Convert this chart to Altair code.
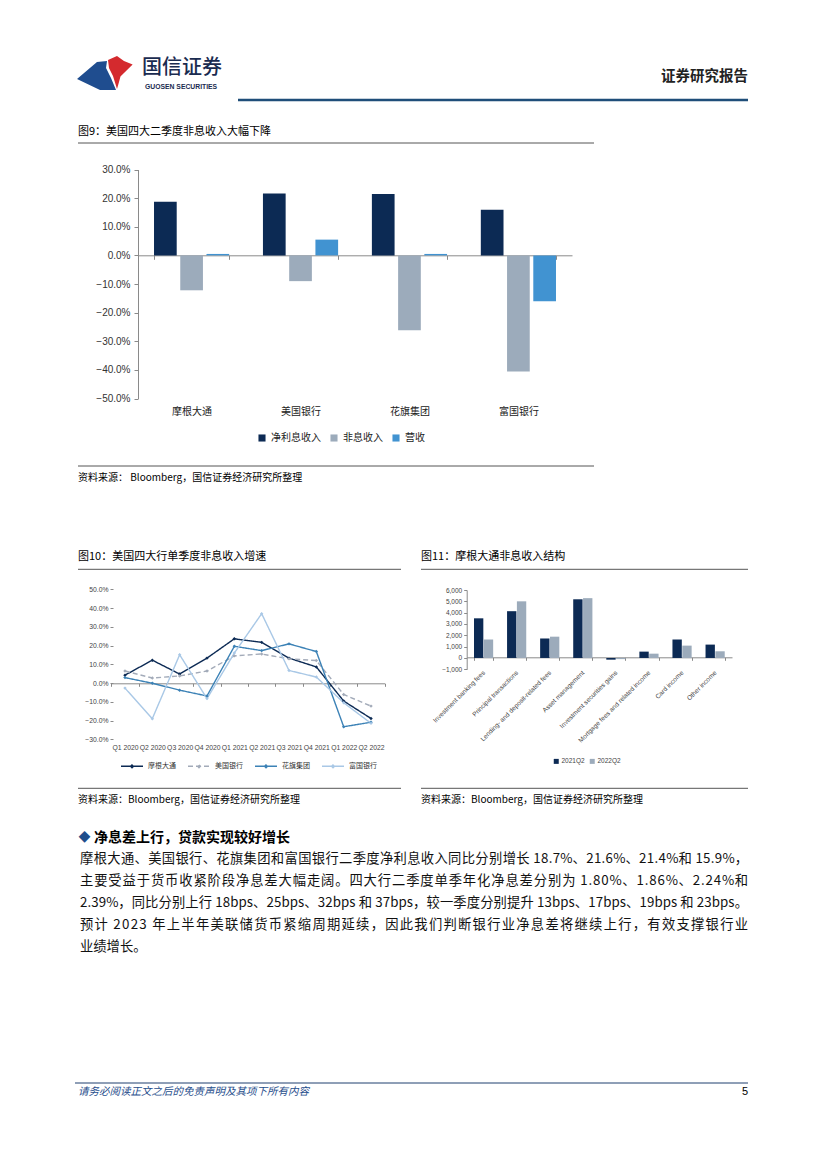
import altair as alt
import pandas as pd

# ---------------- data ----------------
banks = ["摩根大通", "美国银行", "花旗集团", "富国银行"]
series9 = ["净利息收入", "非息收入", "营收"]
nii_yoy = [18.7, 21.6, 21.4, 15.9]
nonii_yoy = [-12.2, -9.0, -26.2, -40.6]
revenue_yoy = [0.5, 5.5, 0.5, -16.0]

quarters = ["Q1 2020", "Q2 2020", "Q3 2020", "Q4 2020", "Q1 2021",
            "Q2 2021", "Q3 2021", "Q4 2021", "Q1 2022", "Q2 2022"]
jpm_q = [4.2, 12.2, 4.8, 13.3, 23.6, 21.7, 13.3, 8.6, -9.6, -18.9]
bac_q = [6.4, 2.7, 3.8, 6.4, 14.5, 15.5, 12.9, 12.0, -6.1, -12.3]
c_q = [2.9, -0.1, -3.8, -6.9, 19.6, 17.3, 20.9, 16.8, -23.3, -20.9]
wfc_q = [-2.7, -19.0, 15.1, -8.3, 16.0, 37.0, 6.7, 3.2, -10.5, -21.5]

items = ["Investment banking fees", "Principal transactions",
         "Lending- and deposit-related fees", "Asset management",
         "Investment securities gains", "Mortgage fees and related income",
         "Card income", "Other income"]
periods = ["2021Q2", "2022Q2"]
jpm_2021q2 = [3500, 4130, 1720, 5180, -150, 560, 1630, 1180]
jpm_2022q2 = [1630, 5000, 1880, 5280, -100, 380, 1090, 590]

body_lines = [
    "摩根大通、美国银行、花旗集团和富国银行二季度净利息收入同比分别增长 18.7%、21.6%、21.4%和 15.9%，",
    "主要受益于货币收紧阶段净息差大幅走阔。四大行二季度单季年化净息差分别为 1.80%、1.86%、2.24%和",
    "2.39%，同比分别上行 18bps、25bps、32bps 和 37bps，较一季度分别提升 13bps、17bps、19bps 和 23bps。",
    "预计 2023 年上半年美联储货币紧缩周期延续，因此我们判断银行业净息差将继续上行，有效支撑银行业",
    "业绩增长。",
]

# ---------------- layout helpers ----------------
W, H = 811, 1140
CJK = "Noto Sans CJK SC"
LAT = "Liberation Sans"
NAVY = "#0c2a54"
GREY = "#9cabbb"
BLUE = "#4193d1"


def px(x):
    return x - 8


def py(y):
    return y - 8


def one():
    return alt.Data(values=[{"k": 1}])


def text(s, x, y, size, color="#000000", align="left", weight="normal",
         font=CJK, style="normal"):
    return alt.Chart(one()).mark_text(
        text=s, align=align, baseline="middle", fontSize=size, font=font,
        color=color, fontWeight=weight, fontStyle=style
    ).encode(x=alt.value(px(x)), y=alt.value(py(y)))


def hrule(x1, x2, y, color="#555555", width=1.0):
    return alt.Chart(one()).mark_rule(color=color, strokeWidth=width).encode(
        x=alt.value(px(x1)), x2=alt.value(px(x2)), y=alt.value(py(y)))


layers = []

# ---------------- header ----------------
blue_path = ("M-0.948,0.207L-0.259,-0.379L0.086,-0.414L0.052,-0.172"
             "L0.224,0.172L0.397,0.586L-0.155,0.586Z")
red_path = ("M0.121,-0.448L0.431,-0.586L0.672,-0.414L0.97,-0.290L0.55,0.120"
            "L0.5,0.310L0.431,0.55L0.293,0.103L0.155,-0.172Z")
for shp, col in [(blue_path, "#1f4d8f"), (red_path, "#d42a2e")]:
    layers.append(alt.Chart(one()).mark_point(
        shape=shp, filled=True, size=58 * 58, color=col, opacity=1, strokeWidth=0
    ).encode(x=alt.value(px(104.5)), y=alt.value(py(73))))
layers.append(text("国信证券", 142, 68, 20, color="#1a2b50", weight=500))
layers.append(text("GUOSEN SECURITIES", 145, 87, 6.8, color="#1a2b50",
                   weight="bold", font=LAT))
layers.append(text("证券研究报告", 748, 77, 14.5, color="#222222", align="right",
                   weight="bold"))
layers.append(hrule(238, 748, 100, color="#1f4e79", width=2.5))

# ---------------- figure 9 ----------------
layers.append(text("图9：美国四大二季度非息收入大幅下降", 78, 132, 11))
layers.append(hrule(78, 594, 143))
layers.append(hrule(78, 594, 466))
layers.append(text("资料来源：  Bloomberg，国信证券经济研究所整理", 78, 478, 10))

df9 = pd.DataFrame({
    "bank": banks * 3,
    "series": [s for s in series9 for _ in banks],
    "value": nii_yoy + nonii_yoy + revenue_yoy,
})
c9 = alt.Chart(df9).mark_bar().encode(
    x=alt.X("bank:N", sort=banks, title=None,
            scale=alt.Scale(domain=banks, range=[px(138), px(572)],
                            paddingInner=0.31, paddingOuter=0.147),
            axis=alt.Axis(orient="bottom", offset=py(255.3) - H,
                          domainColor="#8a8a8a", tickColor="#8a8a8a",
                          tickBand="extent", tickSize=4, labelPadding=147,
                          labelAngle=0, labelFont=CJK, labelFontSize=10,
                          labelColor="#222222", grid=False)),
    xOffset=alt.XOffset("series:N", sort=series9,
                        scale=alt.Scale(domain=series9, paddingInner=0.135,
                                        paddingOuter=0)),
    y=alt.Y("value:Q", title=None,
            scale=alt.Scale(domain=[-50, 30], range=[py(398.5), py(169.5)],
                            nice=False),
            axis=alt.Axis(orient="left", offset=-px(138),
                          values=list(range(-50, 31, 10)),
                          labelExpr="format(datum.value, '.1f') + '%'",
                          domainColor="#8a8a8a", tickColor="#8a8a8a",
                          tickSize=4, labelPadding=4, labelFont=LAT,
                          labelFontSize=10, labelColor="#333333", grid=False)),
    y2=alt.datum(0),
    color=alt.Color("series:N", sort=series9,
                    scale=alt.Scale(domain=series9, range=[NAVY, GREY, BLUE]),
                    legend=alt.Legend(orient="none", legendX=px(257),
                                      legendY=py(433), direction="horizontal",
                                      title=None, symbolType="square",
                                      symbolSize=50, symbolStrokeWidth=0,
                                      labelFont=CJK, labelFontSize=10,
                                      labelColor="#222222", columnPadding=8)),
)
layers.append(c9)

# ---------------- figure 10 ----------------
layers.append(text("图10：美国四大行单季度非息收入增速", 78, 557, 11))
layers.append(hrule(78, 401, 569.3))
layers.append(hrule(78, 401, 788.3))
layers.append(text("资料来源：Bloomberg，国信证券经济研究所整理", 78, 800, 10))

df10 = pd.DataFrame({
    "quarter": quarters * 4,
    "bank": [b for b in banks for _ in quarters],
    "value": jpm_q + bac_q + c_q + wfc_q,
})
leg10 = alt.Legend(orient="none", legendX=px(120), legendY=py(754),
                   direction="horizontal", title=None,
                   symbolType="M-1,0H1M0,-0.12L0.12,0L0,0.12L-0.12,0Z",
                   symbolSize=484, symbolStrokeWidth=1.5, labelFont=CJK,
                   labelFontSize=7, labelColor="#333333", columnPadding=9)
c10 = alt.Chart(df10).mark_line(
    strokeWidth=1.4,
    point=alt.OverlayMarkDef(filled=True, size=12, shape="diamond"),
).encode(
    x=alt.X("quarter:N", sort=quarters, title=None, bandPosition=0.5,
            scale=alt.Scale(type="band", domain=quarters,
                            range=[px(111.3), px(384.7)],
                            paddingInner=0, paddingOuter=0),
            axis=alt.Axis(orient="bottom", offset=py(683.3) - H,
                          domainColor="#8a8a8a", tickColor="#8a8a8a",
                          tickBand="extent", tickSize=3, labelPadding=58,
                          labelAngle=0, labelFont=LAT, labelFontSize=6.8,
                          labelColor="#444444", labelOverlap=False,
                          grid=False)),
    y=alt.Y("value:Q", title=None,
            scale=alt.Scale(domain=[-30, 50], range=[py(739.3), py(589.3)],
                            nice=False),
            axis=alt.Axis(orient="left", offset=-px(113),
                          values=list(range(-30, 51, 10)),
                          labelExpr="format(datum.value, '.1f') + '%'",
                          domain=False, tickColor="#8a8a8a", tickSize=3,
                          labelPadding=2, labelFont=LAT, labelFontSize=6.8,
                          labelColor="#444444", grid=False)),
    color=alt.Color("bank:N", sort=banks,
                    scale=alt.Scale(domain=banks,
                                    range=[NAVY, "#a3abb9", "#3c82b6", "#a9c8e6"]),
                    legend=leg10),
    strokeDash=alt.StrokeDash("bank:N", sort=banks,
                              scale=alt.Scale(domain=banks,
                                              range=[[1, 0], [5, 3], [1, 0], [1, 0]]),
                              legend=leg10),
    order=alt.Order("qi:Q"),
).transform_calculate(
    qi="indexof(" + str(quarters).replace("'", '"') + ", datum.quarter)"
)
layers.append(c10)

# ---------------- figure 11 ----------------
layers.append(text("图11：摩根大通非息收入结构", 421, 557, 11))
layers.append(hrule(421, 748, 569.3))
layers.append(hrule(421, 748, 788.3))
layers.append(text("资料来源：Bloomberg，国信证券经济研究所整理", 421, 800, 10))

df11 = pd.DataFrame({
    "item": items * 2,
    "period": [p for p in periods for _ in items],
    "value": jpm_2021q2 + jpm_2022q2,
})
c11 = alt.Chart(df11).mark_bar().encode(
    x=alt.X("item:N", sort=items, title=None,
            scale=alt.Scale(domain=items, range=[px(466.7), px(732)],
                            paddingInner=0.42, paddingOuter=0.22),
            axis=alt.Axis(orient="bottom", offset=py(657.3) - H,
                          domainColor="#8a8a8a", tickColor="#8a8a8a",
                          tickBand="extent", tickSize=3, labelPadding=11,
                          labelAngle=-45, labelAlign="right",
                          labelBaseline="middle", labelFont=LAT,
                          labelFontSize=6.5, labelColor="#444444",
                          labelOverlap=False, grid=False)),
    xOffset=alt.XOffset("period:N", sort=periods,
                        scale=alt.Scale(domain=periods, paddingInner=0.05,
                                        paddingOuter=0)),
    y=alt.Y("value:Q", title=None,
            scale=alt.Scale(domain=[-1000, 6000], range=[py(669.3), py(590)],
                            nice=False),
            axis=alt.Axis(orient="left", offset=-px(466.7),
                          values=list(range(-1000, 6001, 1000)),
                          labelExpr="format(datum.value, ',.0f')",
                          domainColor="#8a8a8a", tickColor="#8a8a8a",
                          tickSize=3, labelPadding=2, labelFont=LAT,
                          labelFontSize=6.5, labelColor="#444444", grid=False)),
    y2=alt.datum(0),
    color=alt.Color("period:N", sort=periods,
                    scale=alt.Scale(domain=periods, range=[NAVY, GREY]),
                    legend=alt.Legend(orient="none", legendX=px(553),
                                      legendY=py(758), direction="horizontal",
                                      title=None, symbolType="square",
                                      symbolSize=25, symbolStrokeWidth=0,
                                      labelFont=LAT, labelFontSize=6.5,
                                      labelColor="#444444", columnPadding=4,
                                      labelOffset=2)),
)
layers.append(c11)

# ---------------- body text ----------------
layers.append(text("◆", 84.5, 838, 12, color="#1f4e8c", align="center"))
layers.append(text("净息差上行，贷款实现较好增长", 94, 838, 14, weight="bold"))


def adv(c):
    if ord(c) >= 0x2E80:
        return 1.0
    if c.isdigit():
        return 0.555
    return {".": 0.277, "%": 0.889, " ": 0.224, "b": 0.61, "p": 0.61,
            "s": 0.47}.get(c, 0.55)


FS = 13.3
L, R = 80, 748
rows = []
for li, line in enumerate(body_lines):
    y = 859 + 22 * li
    widths = [adv(c) * FS for c in line]
    last = li == len(body_lines) - 1
    gap = 0.0 if last else (R - L - sum(widths)) / (len(line) - 1)
    x = L
    for c, w in zip(line, widths):
        rows.append({"ch": c, "cx": px(x), "cy": py(y)})
        x += w + gap
body = alt.Chart(pd.DataFrame(rows)).mark_text(
    align="left", baseline="middle", fontSize=FS, font=CJK, color="#111111"
).encode(
    x=alt.X("cx:Q", scale=None, axis=None),
    y=alt.Y("cy:Q", scale=None, axis=None),
    text="ch:N",
)
layers.append(body)

# ---------------- footer ----------------
layers.append(hrule(75, 748, 1083, color="#1f3f6e", width=1))
layers.append(text("请务必阅读正文之后的免责声明及其项下所有内容", 78, 1092, 10.5,
                   color="#1f4e8c", style="italic"))
layers.append(text("5", 748, 1092, 11, align="right", font=LAT))

chart = alt.layer(*layers).resolve_scale(
    x="independent", y="independent", color="independent",
    xOffset="independent", strokeDash="independent"
).resolve_axis(
    x="independent", y="independent"
).resolve_legend(
    color="independent", strokeDash="independent"
).properties(
    width=W, height=H, padding=0, background="white",
    autosize=alt.AutoSizeParams(type="none"),
).configure_view(stroke="transparent")

chart.save("out.html", embed_options={"renderer": "svg", "actions": False})
